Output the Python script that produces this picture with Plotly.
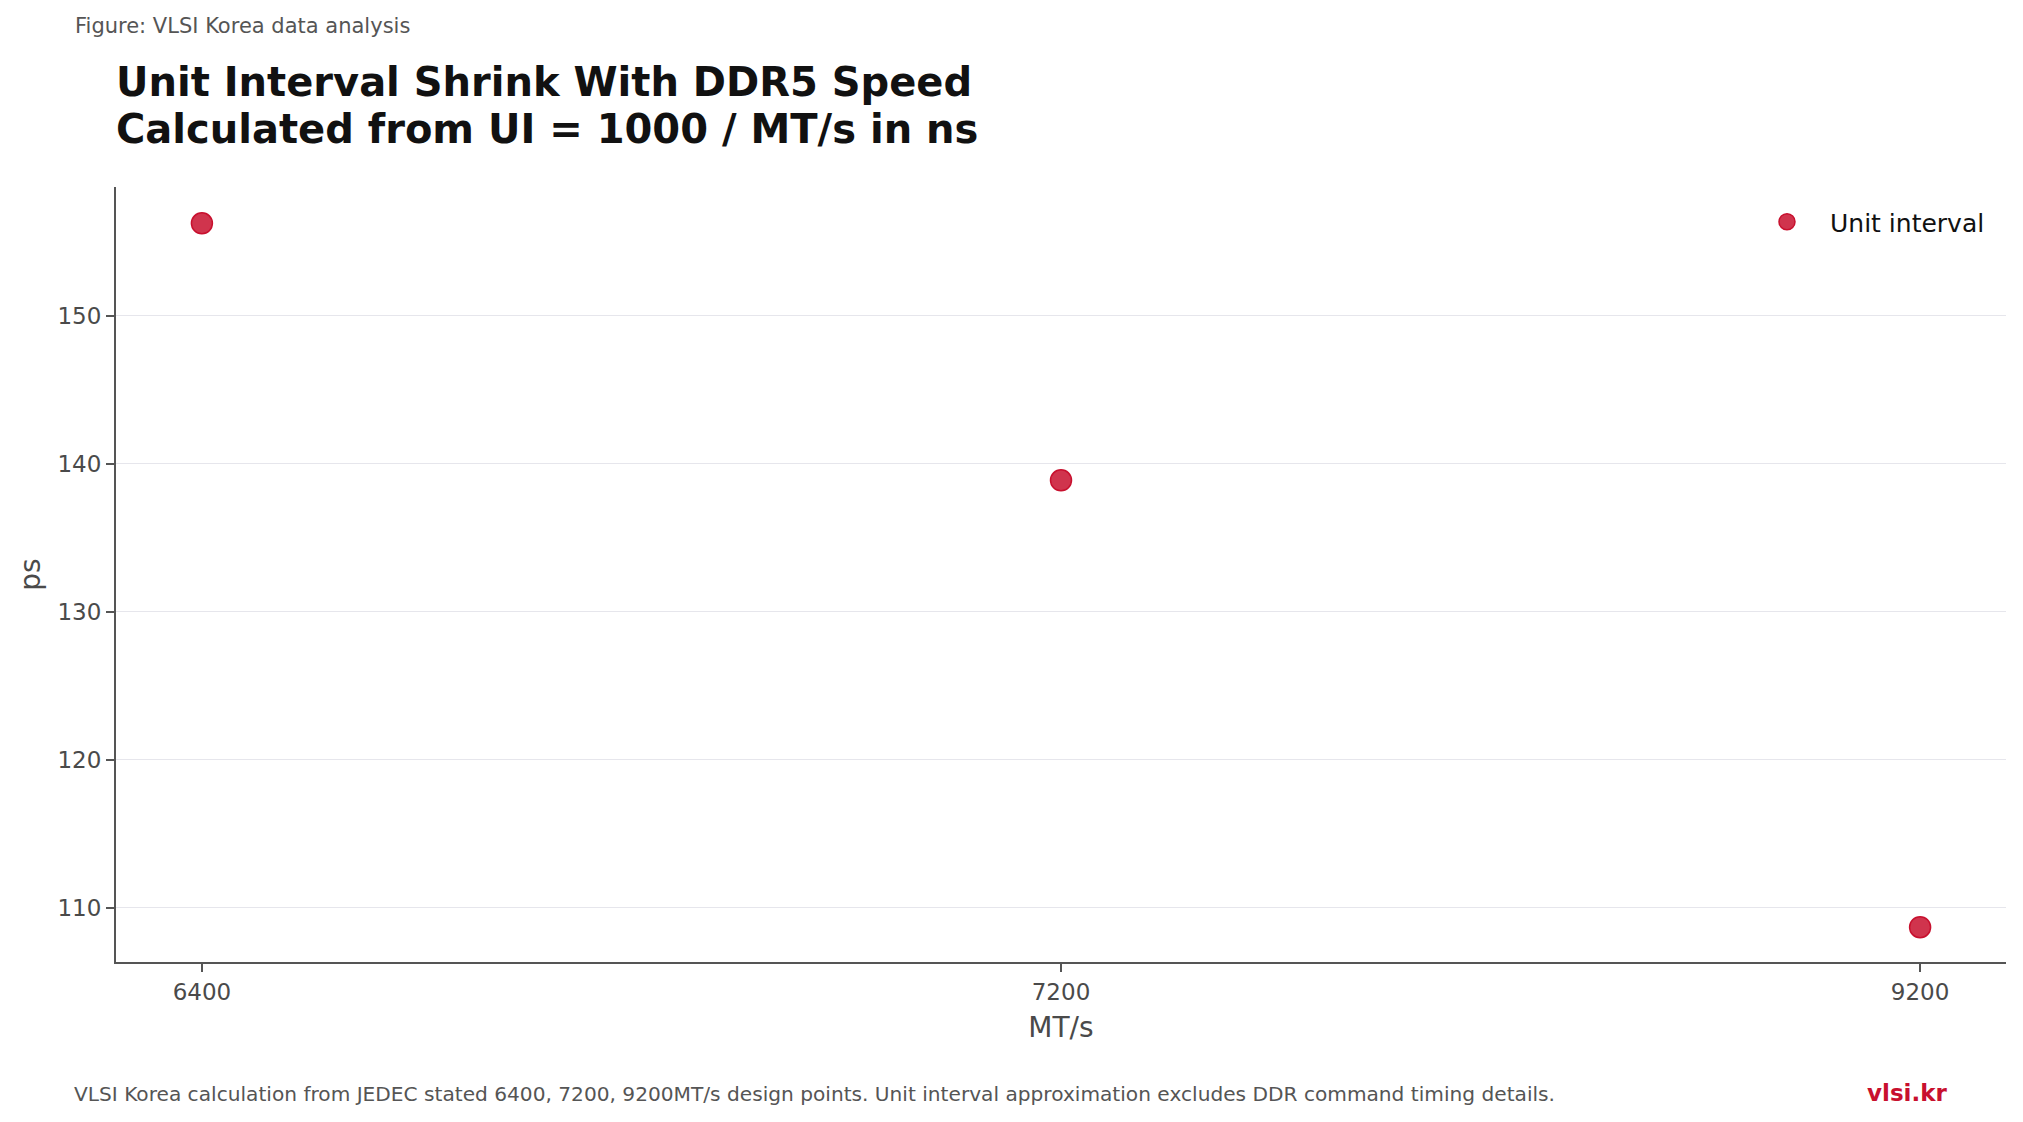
import plotly.graph_objects as go

speeds = ["6400", "7200", "9200"]
unit_interval_ps = [156.25, 138.89, 108.70]
y_ticks = [110, 120, 130, 140, 150]

W, H = 2023, 1122
L, R, T, B = 116, 17, 187, 160
PH = H - T - B
PW = W - L - R

def py(ypx):
    return 1 - (ypx - T) / PH

def px(xpx):
    return (xpx - L) / PW

FONT = "DejaVu Sans"
RED = "#C8102E"

fig = go.Figure()
fig.add_trace(go.Scatter(
    x=speeds, y=unit_interval_ps, mode="markers", name="Unit interval",
    marker=dict(size=21, color="rgba(200,16,46,0.85)",
                line=dict(color="rgba(200,16,46,1)", width=1.5)),
))

fig.update_layout(
    width=W, height=H,
    margin=dict(l=L, r=R, t=T, b=B),
    paper_bgcolor="white", plot_bgcolor="white",
    font=dict(family=FONT, color="#444"),
    showlegend=True,
    legend=dict(x=px(1990), y=py(222), xanchor="right", yanchor="middle",
                bgcolor="rgba(0,0,0,0)", font=dict(size=25, color="#111", family=FONT),
                itemwidth=76),
    xaxis=dict(type="category", range=[-0.1, 2.1], showgrid=False,
               showline=True, linecolor="#555", linewidth=2,
               ticks="outside", ticklen=8, tickwidth=2, tickcolor="#555",
               tickfont=dict(size=23, color="#4a4a4a"),
               title=dict(text="MT/s", font=dict(size=28, color="#4a4a4a"), standoff=14),
               zeroline=False),
    yaxis=dict(range=[106.35, 158.7], tickvals=y_ticks, showgrid=True,
               gridcolor="#e6e6ec", gridwidth=1,
               showline=True, linecolor="#555", linewidth=2,
               ticks="outside", ticklen=8, tickwidth=2, tickcolor="#555",
               tickfont=dict(size=23, color="#4a4a4a"),
               title=dict(text="ps", font=dict(size=28, color="#4a4a4a"), standoff=9),
               zeroline=False),
)

annos = [
    dict(text="Figure: VLSI Korea data analysis", x=px(73), y=py(26),
         font=dict(size=21, color="#555"), xanchor="left", yanchor="middle"),
    dict(text="<b>Unit Interval Shrink With DDR5 Speed</b>", x=px(114), y=py(82),
         font=dict(size=40, color="#111"), xanchor="left", yanchor="middle"),
    dict(text="<b>Calculated from UI = 1000 / MT/s in ns</b>", x=px(114), y=py(129),
         font=dict(size=40, color="#111"), xanchor="left", yanchor="middle"),
    dict(text="VLSI Korea calculation from JEDEC stated 6400, 7200, 9200MT/s design points. Unit interval approximation excludes DDR command timing details.",
         x=px(72), y=py(1094), font=dict(size=20.15, color="#555"), xanchor="left", yanchor="middle"),
    dict(text="<b>vlsi.kr</b>", x=px(1949), y=py(1093),
         font=dict(size=23, color=RED), xanchor="right", yanchor="middle"),
]
for a in annos:
    a.update(xref="paper", yref="paper", showarrow=False)
    a["font"]["family"] = FONT
    fig.add_annotation(**a)

fig.write_html("out.html")
